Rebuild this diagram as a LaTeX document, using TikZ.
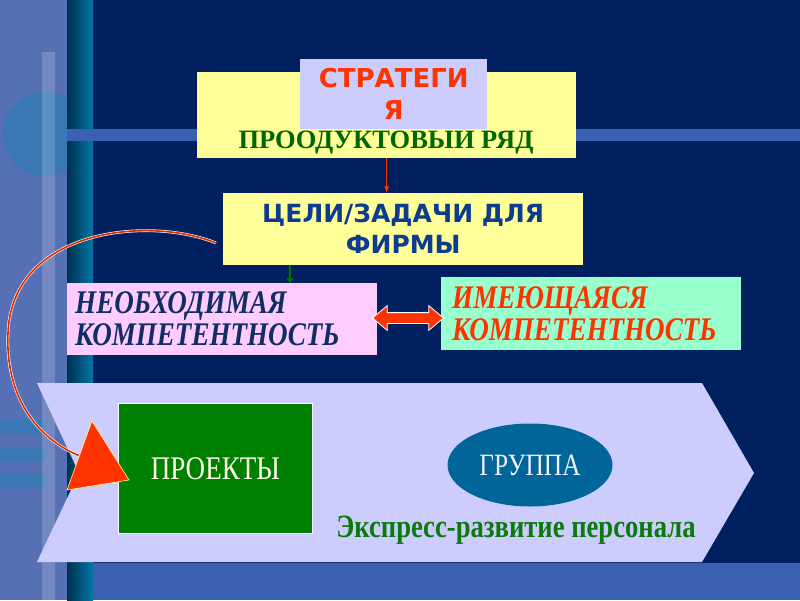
\documentclass[tikz,border=0pt]{standalone}
\usepackage{fontspec}
\setmainfont{Liberation Serif}
\setsansfont{Liberation Sans}
\newfontfamily\wideSans{DejaVu Sans}
\newfontfamily\narrowSerif{Liberation Serif}[FakeStretch=0.82]
\usetikzlibrary{positioning, arrows.meta, shapes.geometric, shapes.arrows}

\definecolor{navy}{HTML}{002060}
\definecolor{bgtexture}{HTML}{5670B5}
\definecolor{bgcircle}{HTML}{3A78B5}
\definecolor{tealdark}{HTML}{00304E}
\definecolor{teallight}{HTML}{0077A6}
\definecolor{bgband}{HTML}{3A5FB3}
\definecolor{lavender}{HTML}{CCCCFF}
\definecolor{boxyellow}{HTML}{FFFF99}
\definecolor{needpink}{HTML}{FFCCFF}
\definecolor{havemint}{HTML}{99FFCC}
\definecolor{hotred}{HTML}{FF3300}
\definecolor{prodgreen}{HTML}{006600}
\definecolor{goalblue}{HTML}{0D3C8E}
\definecolor{needblue}{HTML}{102E64}
\definecolor{projgreen}{HTML}{008000}
\definecolor{groupblue}{HTML}{006699}
\definecolor{expgreen}{HTML}{0A7A0A}

\tikzstyle{panel}=[rectangle, inner sep=0pt, anchor=north west]
\tikzstyle{competence}=[panel, align=left, inner xsep=8pt, minimum height=72pt, font=\narrowSerif\bfseries\itshape\fontsize{33}{32}\selectfont]
\tikzstyle{swaparrow}=[double arrow, fill=hotred, draw=white, line width=0.8pt, inner sep=5pt, minimum height=71pt, double arrow head extend=7pt, double arrow tip angle=80]
\tikzstyle{loopline}=[draw=white, double=hotred!85!black, line width=0.6pt, double distance=1.6pt]
\tikzstyle{bighead}=[fill=hotred, draw=yellow!40, line width=0.6pt]

\begin{document}
\begin{tikzpicture}[x=1pt, y=-1pt, >=Latex]
% background
\fill[navy] (0,0) rectangle (800,600);
\fill[bgtexture] (0,0) rectangle (67,600);
\begin{scope}
\clip (0,0) rectangle (67,600);
\fill[bgcircle] (45,134) circle (42);
\end{scope}
\foreach \y in {420,447,473}
  \fill[bgcircle] (0,\y) rectangle (45,\y+14);
\fill[white, opacity=0.18] (42,52) rectangle (55,600);
\shade[left color=tealdark, right color=teallight] (67,0) rectangle (93,600);
\fill[bgband] (67,129) rectangle (800,141);
\fill[bgband] (93,563) rectangle (800,600);
\fill[lavender] (37,383) -- (702,383) -- (754,473) -- (702,562) -- (37,562) -- (79,473) -- cycle;

% boxes
\node[panel, fill=boxyellow, minimum width=379pt, minimum height=86pt] (prod) at (197,72) {};
\node[font=\bfseries\fontsize{26.5}{26.5}\selectfont, text=prodgreen] (prodlabel) at (386,140) {ПРООДУКТОВЫЙ РЯД};
\node[panel, fill=lavender, minimum width=187pt, minimum height=70pt, align=center,
  font=\wideSans\bfseries\fontsize{26}{32}\selectfont, text=hotred] (strat) at (300,59) {СТРАТЕГИ\\Я};
\node[panel, fill=boxyellow, minimum width=360pt, minimum height=72pt, align=center,
  font=\wideSans\bfseries\fontsize{25}{31}\selectfont, text=goalblue] (goals) at (223,193) {ЦЕЛИ/ЗАДАЧИ ДЛЯ\\ФИРМЫ};
\node[competence, fill=needpink, text width=294pt, text=needblue] (need) at (67,283) {НЕОБХОДИМАЯ\\КОМПЕТЕНТНОСТЬ};
\node[competence, fill=havemint, inner xsep=11pt, text width=278pt, minimum height=73pt, text=hotred] (have) at (441,277) {ИМЕЮЩАЯСЯ\\КОМПЕТЕНТНОСТЬ};
\node[swaparrow] (swap) at (408,318) {};
\node[panel, fill=projgreen, draw=white, line width=0.8pt, minimum width=194pt, minimum height=130pt,
  font=\narrowSerif\fontsize{33}{33}\selectfont, text=white!92!yellow] (proj) at (118,403) {ПРОЕКТЫ};
\node[ellipse, fill=groupblue, minimum width=165pt, minimum height=83pt, inner sep=0pt,
  font=\narrowSerif\fontsize{31}{31}\selectfont, text=white!94!blue] (group) at (530,465) {ГРУППА};
\node[font=\narrowSerif\bfseries\fontsize{32.5}{32.5}\selectfont, text=expgreen] (express) at (516,530) {Экспресс-развитие персонала};

% connectors
\draw[->, hotred, line width=0.8pt] (prod.south) -- (prod.south |- goals.north);
\coordinate (gx) at (290,0);
\draw[-{Triangle[length=5pt,width=7pt]}, green!45!black, line width=2.5pt] (goals.south -| gx) -- (need.north -| gx);
\coordinate (loopstart) at (216,243);
\coordinate (loopend) at (80,456);
\draw[loopline] (loopstart) .. controls (150,216) and (12,228) .. (8,333)
  .. controls (5,400) and (40,440) .. (loopend);
\fill[bighead] (92,421) -- (129,480) -- (67,490) -- cycle;
\end{tikzpicture}
\end{document}
